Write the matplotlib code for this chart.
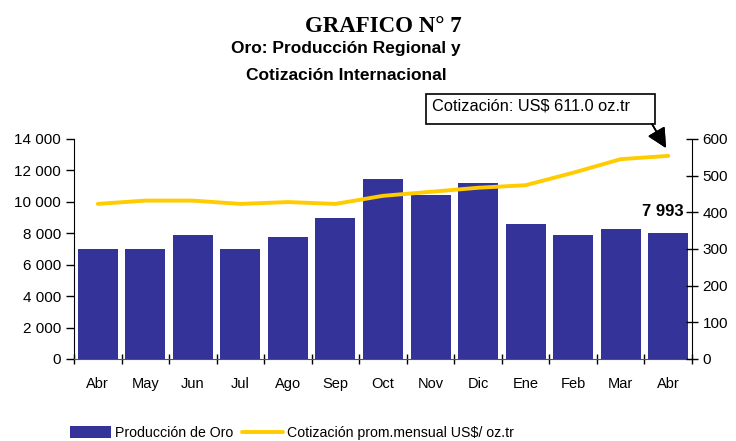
import numpy as np
import matplotlib.pyplot as plt
from matplotlib.patches import Rectangle
from matplotlib.ticker import FuncFormatter, MultipleLocator

# Datos
meses = ["Abr", "May", "Jun", "Jul", "Ago", "Sep", "Oct",
         "Nov", "Dic", "Ene", "Feb", "Mar", "Abr"]
produccion = [7000, 7000, 7900, 7000, 7750, 9000, 11450,
              10450, 11200, 8600, 7900, 8270, 7993]
cotizacion = [423, 432, 432, 423, 428, 423, 445,
              456, 467, 474, 508, 545, 554]

BAR_COLOR = "#333399"
LINE_COLOR = "#FFCC00"

plt.rcParams["font.family"] = ["Liberation Sans", "DejaVu Sans"]


def miles(v, pos):
    return f"{int(v):,}".replace(",", " ")


fig = plt.figure(figsize=(7.36, 4.41), dpi=100)
ax = fig.add_axes([74 / 736, 1 - 359 / 441, 618 / 736, 220 / 441])
ax2 = ax.twinx()

x = np.arange(len(meses))
ax.bar(x, produccion, width=0.84, color=BAR_COLOR, zorder=2,
       label="Producción de Oro")
ax2.plot(x, cotizacion, color=LINE_COLOR, lw=2.8, solid_joinstyle="round",
         solid_capstyle="round", label="Cotización prom.mensual US$/ oz.tr")

ax.set_xlim(-0.5, len(meses) - 0.5)
ax.set_ylim(0, 14000)
ax2.set_ylim(0, 600)
ax.yaxis.set_major_locator(MultipleLocator(2000))
ax.yaxis.set_major_formatter(FuncFormatter(miles))
ax2.yaxis.set_major_locator(MultipleLocator(100))

ax.set_xticks(x)
ax.set_xticklabels(meses)
ax.set_xticks(np.arange(-0.5, len(meses)), minor=True)
ax.tick_params(axis="x", which="major", length=0, pad=13, labelsize=10.5)
ax.tick_params(axis="x", which="minor", length=7, direction="inout", width=1)
ax.tick_params(axis="y", length=6, direction="out", labelsize=11, width=1)
ax2.tick_params(axis="y", length=8, direction="inout", labelsize=11, width=1)

for s in ["top", "right"]:
    ax.spines[s].set_visible(False)
for s in ["top", "left", "bottom"]:
    ax2.spines[s].set_visible(False)
ax.spines["bottom"].set_color("#555555")
ax.set_zorder(1)
ax2.set_zorder(2)

# Etiqueta del ultimo valor
fig.text(684 / 736, 1 - 212 / 441, f"{produccion[-1]:,}".replace(",", " "),
         ha="right", va="center", fontsize=12, fontweight="bold")

# Recuadro de cotizacion con flecha
fig.patches.append(Rectangle((426 / 736, 1 - 124 / 441), 229 / 736, 30 / 441,
                             transform=fig.transFigure, fc="white",
                             ec="black", lw=1.2))
fig.text(432 / 736, 1 - 106 / 441, "Cotización: US$ 611.0 oz.tr",
         ha="left", va="center", fontsize=11.8)
fig.add_artist(plt.annotate(
    "", xy=(666 / 736, 1 - 148 / 441), xycoords="figure fraction",
    xytext=(652 / 736, 1 - 124 / 441), textcoords="figure fraction",
    arrowprops=dict(arrowstyle="-|>,head_width=0.6,head_length=1.2",
                    color="black", lw=1.2, shrinkA=0, shrinkB=0)))

# Titulos
fig.text(383 / 736, 1 - 27 / 441, "GRAFICO N° 7", ha="center", va="center",
         fontsize=16.5, fontweight="bold", family="Liberation Serif")
fig.text(346 / 736, 1 - 48 / 441, "Oro: Producción Regional y", ha="center",
         va="center", fontsize=12.5, fontweight="bold")
fig.text(346 / 736, 1 - 75 / 441, "Cotización Internacional", ha="center",
         va="center", fontsize=12.5, fontweight="bold")

# Leyenda
h1, l1 = ax.get_legend_handles_labels()
h2, l2 = ax2.get_legend_handles_labels()
fig.legend(h1 + h2, l1 + l2, loc="center", bbox_to_anchor=(292 / 736, 1 - 433 / 441),
           ncol=2, frameon=False, fontsize=10.2, handlelength=2.9,
           handleheight=0.9, handletextpad=0.3, columnspacing=0.6,
           borderaxespad=0)

fig.savefig("out.png", dpi=100)
